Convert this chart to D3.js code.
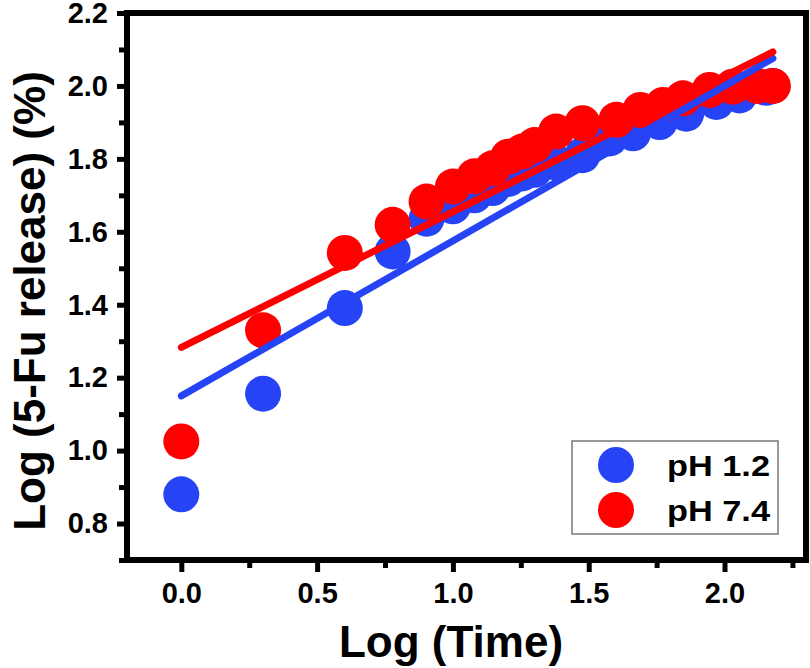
<!DOCTYPE html>
<html>
<head>
<meta charset="utf-8">
<script src="https://cdn.jsdelivr.net/npm/d3@7"></script>
<style>
  html, body { margin: 0; padding: 0; background: #fff; }
  svg { display: block; }
  text { font-family: "Liberation Sans", Arial, sans-serif; font-weight: bold; fill: #000; }
</style>
</head>
<body>
<svg id="chart" width="810" height="668"></svg>
<script>
// ---- data ----
const seriesNames = ["pH 1.2", "pH 7.4"];
const seriesColors = ["#2644f6", "#ff0000"];
const logTimeBlue = [0, 0.301, 0.602, 0.778, 0.903, 1.0, 1.079, 1.146, 1.204, 1.255, 1.301, 1.380, 1.477, 1.577, 1.663, 1.761, 1.859, 1.970, 2.055, 2.153, 2.176];
const logRelBlue  = [0.88, 1.156, 1.391, 1.546, 1.636, 1.67, 1.70, 1.72, 1.745, 1.76, 1.77, 1.79, 1.81, 1.856, 1.870, 1.901, 1.924, 1.956, 1.974, 1.995, 2.0];
const logTimeRed  = [0, 0.301, 0.602, 0.778, 0.903, 1.0, 1.079, 1.146, 1.204, 1.255, 1.301, 1.380, 1.477, 1.602, 1.690, 1.774, 1.847, 1.945, 2.030, 2.120, 2.178];
const logRelRed   = [1.025, 1.33, 1.542, 1.619, 1.683, 1.724, 1.752, 1.774, 1.806, 1.82, 1.838, 1.875, 1.898, 1.907, 1.934, 1.948, 1.966, 1.989, 1.998, 2.0, 2.0];
// linear fits: [intercept, slope], drawn over [fitStart, fitEnd]
const fitBlue = [1.15, 0.425];
const fitRed  = [1.283, 0.372];
const fitRange = [0, 2.178];
const xMajorTicks = [0, 0.5, 1.0, 1.5, 2.0];
const xMinorTicks = [0.25, 0.75, 1.25, 1.75, 2.25];
const yMajorTicks = [0.8, 1.0, 1.2, 1.4, 1.6, 1.8, 2.0, 2.2];
const yMinorTicks = [0.7, 0.9, 1.1, 1.3, 1.5, 1.7, 1.9, 2.1];
const xTitle = "Log (Time)";
const yTitle = "Log (5-Fu release) (%)";

// ---- layout ----
const svg = d3.select("#chart");
const L = 127, R = 806, T = 13, B = 560;
const x = d3.scaleLinear().domain([-0.2, 2.3]).range([L, R]);
const y = d3.scaleLinear().domain([0.7, 2.2]).range([B, T]);

const fmt = d3.format(".1f");
const axW = 6;

// minor ticks
svg.append("g").attr("transform", `translate(0,${B})`)
  .call(d3.axisBottom(x).tickValues(xMinorTicks).tickSize(8).tickFormat(""))
  .call(g => g.select(".domain").remove())
  .call(g => g.selectAll("line").attr("stroke", "#000").attr("stroke-width", 5));
svg.append("g").attr("transform", `translate(${L},0)`)
  .call(d3.axisLeft(y).tickValues(yMinorTicks).tickSize(8).tickFormat(""))
  .call(g => g.select(".domain").remove())
  .call(g => g.selectAll("line").attr("stroke", "#000").attr("stroke-width", 5));

// major ticks
svg.append("g").attr("transform", `translate(0,${B})`)
  .call(d3.axisBottom(x).tickValues(xMajorTicks).tickSize(12).tickPadding(10).tickFormat(fmt))
  .call(g => g.select(".domain").remove())
  .call(g => g.selectAll("line").attr("stroke", "#000").attr("stroke-width", 5))
  .call(g => g.selectAll("text").attr("font-size", 29).attr("font-family", null));
svg.append("g").attr("transform", `translate(${L},0)`)
  .call(d3.axisLeft(y).tickValues(yMajorTicks).tickSize(10).tickPadding(9).tickFormat(fmt))
  .call(g => g.select(".domain").remove())
  .call(g => g.selectAll("line").attr("stroke", "#000").attr("stroke-width", 5))
  .call(g => g.selectAll("text").attr("font-size", 29).attr("font-family", null));

// frame
svg.append("rect").attr("x", L).attr("y", T).attr("width", R - L).attr("height", B - T)
  .attr("fill", "none").attr("stroke", "#000").attr("stroke-width", axW);

// scatter
const plot = svg.append("g");
const blue = logTimeBlue.map((t, i) => ({ t, v: logRelBlue[i] }));
const red = logTimeRed.map((t, i) => ({ t, v: logRelRed[i] }));
plot.selectAll("circle.b").data(blue).join("circle").attr("class", "b")
  .attr("cx", d => x(d.t)).attr("cy", d => y(d.v)).attr("r", 18).attr("fill", seriesColors[0]);
plot.selectAll("circle.r").data(red).join("circle").attr("class", "r")
  .attr("cx", d => x(d.t)).attr("cy", d => y(d.v)).attr("r", 18).attr("fill", seriesColors[1]);

// fit lines
const line = d3.line().x(d => x(d[0])).y(d => y(d[1]));
[[fitBlue, seriesColors[0]], [fitRed, seriesColors[1]]].forEach(([f, c]) => {
  const pts = fitRange.map(t => [t, f[0] + f[1] * t]);
  plot.append("path").attr("d", line(pts)).attr("stroke", c).attr("stroke-width", 7)
    .attr("stroke-linecap", "round").attr("fill", "none");
});

// legend
const lg = svg.append("g");
lg.append("rect").attr("x", 572).attr("y", 441).attr("width", 206).attr("height", 93)
  .attr("fill", "#fff").attr("stroke", "#777").attr("stroke-width", 1.5);
seriesNames.forEach((n, i) => {
  lg.append("circle").attr("cx", 616).attr("cy", 465 + i * 45).attr("r", 18).attr("fill", seriesColors[i]);
  lg.append("text").attr("x", 667).attr("y", 476 + i * 44.5).attr("font-size", 30)
    .attr("textLength", 103).attr("lengthAdjust", "spacingAndGlyphs").text(n);
});

// titles
svg.append("text").attr("x", 451).attr("y", 657).attr("text-anchor", "middle")
  .attr("font-size", 44).text(xTitle);
svg.append("text").attr("transform", "translate(45,301) rotate(-90)").attr("text-anchor", "middle")
  .attr("font-size", 44).text(yTitle);
</script>
</body>
</html>
